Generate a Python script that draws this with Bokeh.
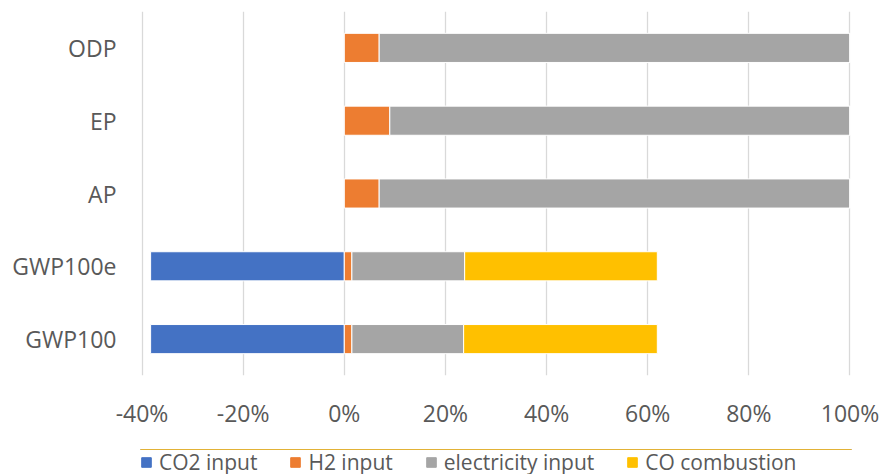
import numpy as np
from bokeh.plotting import figure
from bokeh.layouts import column
from bokeh.models import FactorRange, Range1d, FixedTicker, PrintfTickFormatter, Legend, LegendItem
from bokeh.embed import file_html
from bokeh.resources import INLINE

categories = ["GWP100", "GWP100e", "AP", "EP", "ODP"]
co2_input = [-38.3, -38.3, 0.0, 0.0, 0.0]
h2_input = [1.5, 1.5, 6.9, 9.0, 6.9]
electricity_input = [22.1, 22.3, 93.1, 91.0, 93.1]
co_combustion = [38.3, 38.1, 0.0, 0.0, 0.0]
x_ticks = [-40, -20, 0, 20, 40, 60, 80, 100]

series_names = ["CO2 input", "H2 input", "electricity input", "CO combustion"]
colors = ["#4472C4", "#ED7D31", "#A5A5A5", "#FFC000"]

FONT = "Open Sans"
TXT = "#595959"

p = figure(width=883, height=449, y_range=FactorRange(*categories, range_padding=0),
           x_range=Range1d(-40.3, 100.3), output_backend="svg", toolbar_location=None,
           min_border_left=140, min_border_right=32, min_border_top=11, min_border_bottom=74)
p.outline_line_color = None

h2 = np.array(h2_input)
el = np.array(electricity_input)
co = np.array(co_combustion)
neg = np.array(co2_input)

lefts = [np.zeros(5), np.zeros(5), h2, h2 + el]
rights = [neg, h2, h2 + el, h2 + el + co]
for l, r, c in zip(lefts, rights, colors):
    p.hbar(y=categories, left=l, right=r, height=0.4, fill_color=c,
           line_color="white", line_width=1)

p.xaxis.ticker = FixedTicker(ticks=x_ticks)
p.xaxis.formatter = PrintfTickFormatter(format="%d%%")
for ax in (p.xaxis[0], p.yaxis[0]):
    ax.axis_line_color = None
    ax.major_tick_line_color = None
    ax.minor_tick_line_color = None
    ax.major_label_text_font = FONT
    ax.major_label_text_font_size = "23px"
    ax.major_label_text_color = TXT
p.xaxis.major_label_standoff = 15
p.yaxis.major_label_standoff = 18

p.ygrid.grid_line_color = None
p.xgrid.ticker = FixedTicker(ticks=x_ticks)
p.xgrid.grid_line_color = "#D9D9D9"
p.xgrid.grid_line_width = 1.3

# legend strip below the chart (proxy renderers sit outside the strip's visible range)
lg = figure(width=883, height=25, x_range=Range1d(0, 1), y_range=Range1d(0, 1),
            x_axis_type=None, y_axis_type=None, output_backend="svg", toolbar_location=None,
            min_border_left=105, min_border_right=0, min_border_top=0, min_border_bottom=0)
lg.outline_line_color = None
lg.xgrid.visible = False
lg.ygrid.visible = False
items = []
for n, c in zip(series_names, colors):
    r = lg.hbar(y=[5], left=[0], right=[1], height=0.4, fill_color=c, line_color=c)
    items.append(LegendItem(label=n, renderers=[r]))
legend = Legend(items=items, orientation="horizontal", location="left",
                border_line_color=None, background_fill_alpha=0, padding=0, margin=0,
                spacing=32, label_standoff=7, glyph_width=12, glyph_height=12, label_height=20,
                label_text_font=FONT, label_text_font_size="21px", label_text_color=TXT)
lg.add_layout(legend)

layout = column(p, lg, spacing=0)
open("out.html", "w").write(file_html(layout, INLINE))
